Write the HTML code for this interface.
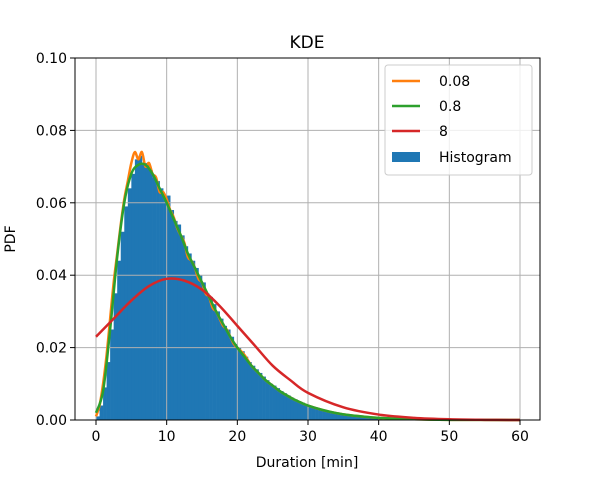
<!DOCTYPE html>
<html><head><meta charset="utf-8"><style>
body{margin:0;background:#fff}
svg text{font-family:"DejaVu Sans","Liberation Sans",sans-serif;fill:#000}
</style></head><body>
<svg id="chart" width="600" height="480">
<rect width="600" height="480" fill="#fff"/>
<g id="bars"></g>
<g id="grid"></g>
<g id="lines"></g>
<rect x="75" y="58" width="465" height="362" fill="none" stroke="#000" stroke-width="1"/>
<g id="ticks"></g>
<text x="307" y="48" font-size="17" text-anchor="middle">KDE</text>
<text x="307" y="467" font-size="14" text-anchor="middle">Duration [min]</text>
<text transform="translate(15,239) rotate(-90)" font-size="14" text-anchor="middle">PDF</text>
<g>
<rect x="385" y="65" width="147" height="110" rx="3" fill="#fff" fill-opacity="0.8" stroke="#ccc"/>
<line x1="392" y1="81" x2="420" y2="81" stroke="#ff7f0e" stroke-width="2.5"/>
<text x="439" y="86" font-size="14">0.08</text>
<line x1="392" y1="106" x2="420" y2="106" stroke="#2ca02c" stroke-width="2.5"/>
<text x="439" y="111" font-size="14">0.8</text>
<line x1="392" y1="131" x2="420" y2="131" stroke="#d62728" stroke-width="2.5"/>
<text x="439" y="136" font-size="14">8</text>
<rect x="392" y="152" width="28" height="10" fill="#1f77b4"/>
<text x="439" y="162" font-size="14">Histogram</text>
</g>
</svg>
<script>
const histEdges=[0,0.5,1,1.5,2,2.5,3,3.5,4,4.5,5,5.5,6,6.5,7,7.5,8,8.5,9,9.5,10,10.5,11,11.5,12,12.5,13,13.5,14,14.5,15,15.5,16,16.5,17,17.5,18,18.5,19,19.5,20,20.5,21,21.5,22,22.5,23,23.5,24,24.5,25,25.5,26,26.5,27,27.5,28,28.5,29,29.5,30,30.5,31,31.5,32,32.5,33,33.5,34,34.5,35,35.5,36,36.5,37,37.5,38,38.5,39,39.5,40];
const histValues=[0.001,0.004,0.009,0.016,0.025,0.035,0.044,0.052,0.059,0.064,0.068,0.072,0.073,0.071,0.071,0.069,0.067,0.066,0.064,0.062,0.062,0.058,0.055,0.054,0.051,0.048,0.046,0.044,0.042,0.040,0.038,0.035,0.034,0.032,0.030,0.028,0.026,0.025,0.023,0.021,0.020,0.019,0.0175,0.016,0.015,0.014,0.013,0.012,0.011,0.010,0.0095,0.0088,0.008,0.0074,0.0068,0.0062,0.0057,0.0052,0.0048,0.0044,0.004,0.0037,0.0034,0.0031,0.0028,0.0025,0.0023,0.0021,0.0019,0.0017,0.0015,0.0014,0.0013,0.0012,0.0011,0.001,0.0009,0.0008,0.0007,0.0007,0.0006];
const binWidth=0.5;
const orangeX=[0,0.5,1,1.5,2,2.5,3,3.5,4,4.5,5,5.5,6,6.5,7,7.5,8,8.5,9,9.5,10,10.5,11,11.5,12,12.5,13,13.5,14,14.5,15,15.5,16,16.5,17,17.5,18,18.5,19,19.5,20,21,22,23,24,25,26,27,28,29,30,32,34,36,38,40,45,50,60];
const orangeY=[0.001,0.004,0.010,0.018,0.028,0.038,0.046,0.054,0.061,0.066,0.071,0.074,0.072,0.074,0.070,0.071,0.068,0.067,0.063,0.063,0.061,0.058,0.056,0.053,0.051,0.049,0.045,0.044,0.042,0.039,0.038,0.035,0.034,0.031,0.030,0.028,0.026,0.025,0.023,0.021,0.020,0.018,0.015,0.013,0.011,0.0095,0.008,0.0068,0.0057,0.0048,0.004,0.0028,0.0019,0.0013,0.0009,0.0006,0.0002,0.00005,0];
const greenX=[0,1,2,3,4,5,6,7,8,9,10,11,12,13,14,15,16,17,18,19,20,21,22,23,24,25,26,27,28,29,30,32,34,36,38,40,45,50,60];
const greenY=[0.002,0.008,0.025,0.045,0.060,0.068,0.0705,0.0705,0.068,0.064,0.060,0.0555,0.051,0.046,0.042,0.038,0.034,0.030,0.0265,0.023,0.020,0.0175,0.015,0.013,0.011,0.0095,0.008,0.0068,0.0057,0.0048,0.004,0.0028,0.0019,0.0013,0.0009,0.0006,0.0002,0.00005,0];
const redX=[0,2.5,5,7.5,10,12.5,15,17.5,20,22.5,25,27.5,30,35,40,45,50,55,60];
const redY=[0.023,0.028,0.033,0.037,0.039,0.0385,0.036,0.0315,0.026,0.0205,0.015,0.011,0.0075,0.0035,0.0015,0.0006,0.0002,0.00005,0];
const xTicks=[0,10,20,30,40,50,60];
const yTicks=[0,0.02,0.04,0.06,0.08,0.10];
const yTickLabels=["0.00","0.02","0.04","0.06","0.08","0.10"];

const X=v=>96+v*(424/60);
const Y=v=>420-v*(362/0.1);
const NS="http://www.w3.org/2000/svg";
function mk(tag,attrs,parent){const e=document.createElementNS(NS,tag);for(const k in attrs)e.setAttribute(k,attrs[k]);parent.appendChild(e);return e;}
const bars=document.getElementById('bars');
histEdges.forEach((x0,i)=>{
  const r=mk('rect',{x:X(x0),y:Y(histValues[i]),width:X(x0+binWidth)-X(x0)+0.3,height:420-Y(histValues[i]),fill:'#1f77b4'},bars);
  
  
});
const grid=document.getElementById('grid'),ticks=document.getElementById('ticks');
xTicks.forEach(t=>{
  const l=mk('line',{x1:X(t),x2:X(t),y1:58,y2:420,stroke:'#b0b0b0','stroke-width':1},grid);
  
  
  mk('line',{x1:X(t),x2:X(t),y1:420,y2:425,stroke:'#000'},ticks);
  const tx=mk('text',{x:X(t),y:441,'font-size':14,'text-anchor':'middle'},ticks);tx.textContent=t;
  
  
});
yTicks.forEach((t,i)=>{
  const l=mk('line',{x1:75,x2:540,y1:Y(t),y2:Y(t),stroke:'#b0b0b0','stroke-width':1},grid);
  
  
  mk('line',{x1:70,x2:75,y1:Y(t),y2:Y(t),stroke:'#000'},ticks);
  const tx=mk('text',{x:67,y:Y(t)+5,'font-size':14,'text-anchor':'end'},ticks);tx.textContent=yTickLabels[i];
  
  
});
const lines=document.getElementById('lines');
function smoothPath(xs,ys){
  const P=xs.map((x,i)=>[X(x),Y(ys[i])]);
  let d='M'+P[0][0]+','+P[0][1];
  for(let i=0;i<P.length-1;i++){
    const p0=P[Math.max(0,i-1)],p1=P[i],p2=P[i+1],p3=P[Math.min(P.length-1,i+2)];
    const c1=[p1[0]+(p2[0]-p0[0])/6,p1[1]+(p2[1]-p0[1])/6];
    const c2=[p2[0]-(p3[0]-p1[0])/6,p2[1]-(p3[1]-p1[1])/6];
    d+=' C'+c1[0]+','+c1[1]+' '+c2[0]+','+c2[1]+' '+p2[0]+','+p2[1];
  }
  return d;
}
function line(xs,ys,color,name){
  const p=mk('path',{d:smoothPath(xs,ys),fill:'none',stroke:color,'stroke-width':2.5,'stroke-linejoin':'round'},lines);
  
  
}
line(orangeX,orangeY,'#ff7f0e','kde-line-0.08');
line(greenX,greenY,'#2ca02c','kde-line-0.8');
line(redX,redY,'#d62728','kde-line-8');
</script>
</body></html>
